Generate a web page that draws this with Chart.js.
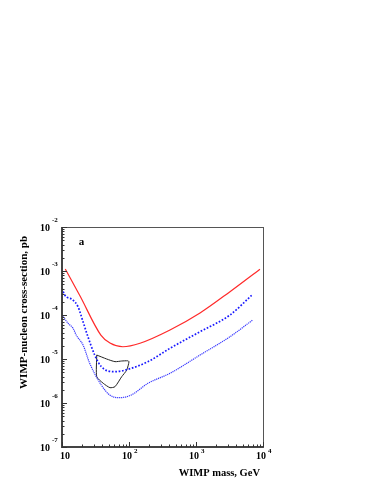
<!DOCTYPE html>
<html>
<head>
<meta charset="utf-8">
<script src="https://cdn.jsdelivr.net/npm/chart.js@4/dist/chart.umd.min.js"></script>
<style>
  html, body { margin: 0; padding: 0; background: #fff; }
  #c { display: block; }
</style>
</head>
<body>
<canvas id="c" width="379" height="491"></canvas>
<script>
// masa WIMP (GeV) y seccion eficaz (pb)
const redMass = [11.2, 18.6, 38, 52, 81, 146, 409, 1148, 3215, 9000];
const redSigma = [1.11e-3, 2.7e-4, 3.5e-5, 2.3e-5, 1.9e-5, 2.28e-5, 4.56e-5, 1.11e-4, 3.39e-4, 1.1e-3];

const dashMass = [10, 11, 14.6, 17.3, 20.6, 23.9, 30.8, 38.6, 61, 96.6, 192, 409, 1148, 3215, 6775];
const dashSigma = [4.05e-4, 2.85e-4, 2.19e-4, 1.55e-4, 7.05e-5, 3.5e-5, 1.23e-5, 6.7e-6, 5.14e-6, 5.83e-6, 8.7e-6, 1.75e-5, 4.17e-5, 1.0e-4, 2.8e-4];

const dotMass = [10, 12.3, 14.6, 16.3, 20.6, 25.9, 38.6, 51.5, 72.6, 108, 192, 409, 1148, 3215, 7015];
const dotSigma = [1.0e-4, 6.5e-5, 5.0e-5, 3.5e-5, 2.08e-5, 8.0e-6, 2.56e-6, 1.52e-6, 1.32e-6, 1.52e-6, 2.8e-6, 4.73e-6, 1.23e-5, 3.21e-5, 7.7e-5];

// contorno cerrado
const regionMass = [33, 33, 41.3, 52, 61.8, 77.8, 92.5, 100, 95.7, 77.8, 61.8, 46.4, 33];
const regionSigma = [1.23e-5, 3.96e-6, 2.8e-6, 2.23e-6, 2.35e-6, 3.96e-6, 5.6e-6, 8.7e-6, 9.1e-6, 9.0e-6, 8.7e-6, 1.0e-5, 1.23e-5];

const xTicks = [10, 100, 1000, 10000];
const xExp = ["", "2", "3", "4"];
const yTicks = [1e-2, 1e-3, 1e-4, 1e-5, 1e-6, 1e-7];
const yExp = ["-2", "-3", "-4", "-5", "-6", "-7"];

const xTitle = "WIMP mass, GeV";
const yTitle = "WIMP-nucleon cross-section, pb";
const panelLabel = "a";

const pts = (xs, ys) => xs.map((x, i) => ({ x: x, y: ys[i] }));
const FONT = "'Liberation Serif', 'Times New Roman', serif";

// ejes, marcas y textos
const frame = {
    id: "frame",
    afterDatasetsDraw(chart) {
        const ctx = chart.ctx;
        const a = chart.chartArea;
        const xs = chart.scales.x, ys = chart.scales.y;
        ctx.save();

        ctx.strokeStyle = "#555";
        ctx.lineWidth = 1;
        ctx.strokeRect(a.left + 0.5, a.top + 0.5, a.right - a.left, a.bottom - a.top);
        ctx.strokeStyle = "#444";
        ctx.lineWidth = 2;
        ctx.beginPath();
        ctx.moveTo(a.left, a.top);
        ctx.lineTo(a.left, a.bottom);
        ctx.lineTo(a.right, a.bottom);
        ctx.stroke();

        // marcas menores y mayores
        ctx.lineWidth = 1;
        ctx.strokeStyle = "#333";
        ctx.beginPath();
        for (let d = 10; d < 10000; d *= 10) {
            for (let k = 1; k <= 10; k++) {
                const px = Math.round(xs.getPixelForValue(d * k)) + 0.5;
                const len = (k === 1 || k === 10) ? 5 : 2.5;
                ctx.moveTo(px, a.bottom);
                ctx.lineTo(px, a.bottom - len);
            }
        }
        for (let d = 1e-7; d < 1e-2; d *= 10) {
            for (let k = 1; k <= 10; k++) {
                const py = Math.round(ys.getPixelForValue(d * k)) + 0.5;
                const len = (k === 1 || k === 10) ? 5 : 2.5;
                ctx.moveTo(a.left, py);
                ctx.lineTo(a.left + len, py);
            }
        }
        ctx.stroke();

        ctx.fillStyle = "#000";
        ctx.textBaseline = "middle";
        // etiquetas eje y
        yTicks.forEach((v, i) => {
            const py = ys.getPixelForValue(v);
            ctx.font = "bold 10px " + FONT;
            ctx.textAlign = "right";
            ctx.fillText("10", a.left - 12, py + 1);
            ctx.font = "bold 7px " + FONT;
            ctx.textAlign = "left";
            ctx.fillText(yExp[i], a.left - 10, py - 7);
        });
        // etiquetas eje x
        xTicks.forEach((v, i) => {
            const px = xs.getPixelForValue(v);
            ctx.font = "bold 10px " + FONT;
            ctx.textAlign = "center";
            if (xExp[i] === "") {
                ctx.fillText("10", px + 3, a.bottom + 9);
            } else {
                ctx.fillText("10", px - 2, a.bottom + 9);
                ctx.font = "bold 7px " + FONT;
                ctx.textAlign = "left";
                ctx.fillText(xExp[i], px + 5, a.bottom + 4);
            }
        });

        // titulos
        ctx.font = "bold 10.5px " + FONT;
        ctx.textAlign = "right";
        ctx.fillText(xTitle, a.right - 3, a.bottom + 26);
        ctx.save();
        ctx.font = "bold 11px " + FONT;
        ctx.translate(24, a.top + 9);
        ctx.rotate(-Math.PI / 2);
        ctx.fillText(yTitle, 0, 0);
        ctx.restore();

        ctx.font = "bold 11px " + FONT;
        ctx.textAlign = "center";
        ctx.fillText(panelLabel, xs.getPixelForValue(19.5), ys.getPixelForValue(4.6e-3));
        ctx.restore();
    }
};

new Chart(document.getElementById("c"), {
    type: "scatter",
    data: {
        datasets: [
            { data: pts(redMass, redSigma), showLine: true, borderColor: "#ff2a2a", borderWidth: 1.2, pointRadius: 0, cubicInterpolationMode: "monotone" },
            { data: pts(dashMass, dashSigma), showLine: true, borderColor: "#1a1aff", borderWidth: 1.7, borderDash: [1.7, 1.7], pointRadius: 0, cubicInterpolationMode: "monotone" },
            { data: pts(dotMass, dotSigma), showLine: true, borderColor: "#3a3aff", borderWidth: 1.2, borderDash: [1.2, 0.8], pointRadius: 0, cubicInterpolationMode: "monotone" },
            { data: pts(regionMass, regionSigma), showLine: true, borderColor: "#222", borderWidth: 1, pointRadius: 0, tension: 0.2 }
        ]
    },
    options: {
        responsive: false,
        animation: false,
        layout: { padding: { left: 0, right: 116, top: 227, bottom: 0 } },
        plugins: { legend: { display: false }, tooltip: { enabled: false } },
        scales: {
            x: {
                type: "logarithmic", min: 10, max: 10000,
                ticks: { display: false }, grid: { display: false }, border: { display: false },
                afterFit: s => { s.height = 44; }
            },
            y: {
                type: "logarithmic", min: 1e-7, max: 1e-2,
                ticks: { display: false }, grid: { display: false }, border: { display: false },
                afterFit: s => { s.width = 62; }
            }
        }
    },
    plugins: [frame]
});
</script>
</body>
</html>
